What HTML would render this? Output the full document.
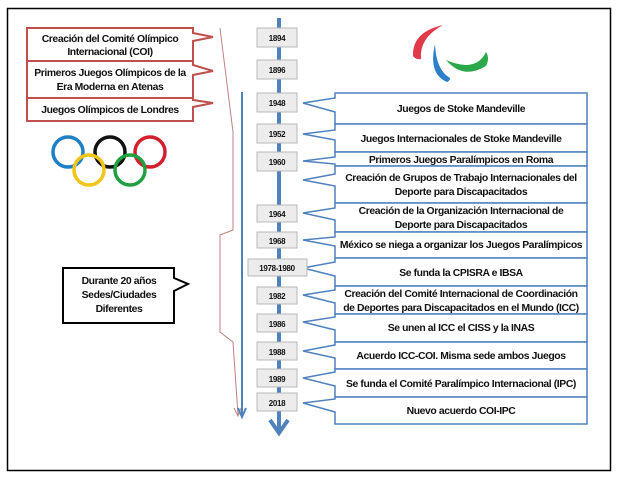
<!DOCTYPE html>
<html><head><meta charset="utf-8"><style>
html,body{margin:0;padding:0;background:#fff;width:618px;height:479px;overflow:hidden}
svg{display:block}
text{font-family:"Liberation Sans",sans-serif;font-weight:bold;font-size:10.4px;fill:#111;text-anchor:middle;letter-spacing:-0.4px}
.y{font-size:8px;letter-spacing:-0.3px}
</style></head><body>
<svg width="618" height="479" viewBox="0 0 618 479">
<rect x="7.5" y="8.5" width="603" height="462" fill="#fff" stroke="#000" stroke-width="1.5"/>
<g fill="#fff" stroke="#c0504d" stroke-width="2">
<path d="M27,28 H193 V33 L213,37 L193,41 V61 H27 Z"/>
<path d="M27,61 H193 V65 L213,71 L193,75 V98 H27 Z"/>
<path d="M27,98 H193 V100 L213,103 L193,107 V121 H27 Z"/>
</g>
<text x="110" y="42">Creación del Comité Olímpico</text>
<text x="110" y="55">Internacional (COI)</text>
<text x="110" y="76">Primeros Juegos Olímpicos de la</text>
<text x="110" y="90">Era Moderna en Atenas</text>
<text x="110" y="113">Juegos Olímpicos de Londres</text>
<g fill="none" stroke-width="3.5">
<circle cx="68" cy="152" r="15" stroke="#1f7fc4"/>
<circle cx="110" cy="152" r="15" stroke="#111"/>
<circle cx="150" cy="152" r="15" stroke="#d4202e"/>
<circle cx="89" cy="170" r="15" stroke="#f2c419"/>
<circle cx="130" cy="170" r="15" stroke="#20a040"/>
</g>
<path d="M63,268 H174 V278 L188,284 L174,291 V323 H63 Z" fill="#fff" stroke="#000" stroke-width="2"/>
<text x="119" y="284">Durante 20 años</text>
<text x="119" y="298">Sedes/Ciudades</text>
<text x="119" y="312">Diferentes</text>
<polyline points="220,28 233,132 233,230 220,235 220,332 233,342 238,415" fill="none" stroke="#c08080" stroke-width="1"/>
<path d="M234,408 L238,416 L241,408" fill="none" stroke="#c08080" stroke-width="1"/>
<line x1="242" y1="92" x2="242" y2="416" stroke="#4f81bd" stroke-width="2"/>
<path d="M238,408 L242,417 L246,408" fill="none" stroke="#4f81bd" stroke-width="2"/>
<line x1="279" y1="18" x2="279" y2="432" stroke="#4f81bd" stroke-width="4"/>
<path d="M270,420 L279,433 L288,420" fill="none" stroke="#4f81bd" stroke-width="4"/>
<path d="M443,25 Q412,32 413,56 Q416,60 421,59 Q419,38 443,25 Z" fill="#e03a4a"/>
<path d="M435,44 Q428,74 447,82 Q450,81 450,78 Q436,70 435,44 Z" fill="#2c7fc8"/>
<path d="M446,60 Q463,80 486,66 Q490,58 486,52 Q476,73 446,60 Z" fill="#2aa84a"/>
<g fill="#fff" stroke="#4f81bd" stroke-width="1.5">
<path d="M335,93 H587 V124 H335 V112 L303,103 L335,98 Z"/>
<path d="M335,124 H587 V152 H335 V140 L303,134 L335,130 Z"/>
<path d="M335,152 H587 V166 H335 V164 L303,161 L335,157 Z"/>
<path d="M335,166 H587 V203 H335 V186 L303,180 L335,174 Z"/>
<path d="M335,203 H587 V232 H335 V220 L303,213 L335,208 Z"/>
<path d="M335,232 H587 V258 H335 V246 L303,240 L335,237 Z"/>
<path d="M335,258 H587 V286 H335 V276 L303,268 L335,262 Z"/>
<path d="M335,286 H587 V314 H335 V303 L303,295 L335,290 Z"/>
<path d="M335,314 H587 V342 H335 V330 L303,322 L335,317 Z"/>
<path d="M335,342 H587 V369 H335 V358 L303,351 L335,345 Z"/>
<path d="M335,369 H587 V397 H335 V386 L303,378 L335,372 Z"/>
<path d="M335,397 H587 V424 H335 V412 L303,403 L335,399 Z"/>
</g>
<text x="461" y="112">Juegos de Stoke Mandeville</text>
<text x="461" y="142">Juegos Internacionales de Stoke Mandeville</text>
<text x="461" y="163">Primeros Juegos Paralímpicos en Roma</text>
<text x="461" y="181">Creación de Grupos de Trabajo Internacionales del</text>
<text x="461" y="195">Deporte para Discapacitados</text>
<text x="461" y="214">Creación de la Organización Internacional de</text>
<text x="461" y="228">Deporte para Discapacitados</text>
<text x="461" y="248">México se niega a organizar los Juegos Paralímpicos</text>
<text x="461" y="276">Se funda la CPISRA e IBSA</text>
<text x="461" y="297">Creación del Comité Internacional de Coordinación</text>
<text x="461" y="311">de Deportes para Discapacitados en el Mundo (ICC)</text>
<text x="461" y="331">Se unen al ICC el CISS y la INAS</text>
<text x="461" y="359">Acuerdo ICC-COI. Misma sede ambos Juegos</text>
<text x="461" y="387">Se funda el Comité Paralímpico Internacional (IPC)</text>
<text x="461" y="414">Nuevo acuerdo COI-IPC</text>
<g fill="#ececec" stroke="#b8b8b8" stroke-width="1">
<rect x="257" y="28" width="40" height="19"/>
<rect x="257" y="60" width="40" height="19"/>
<rect x="257" y="93" width="40" height="19"/>
<rect x="257" y="124" width="40" height="19"/>
<rect x="257" y="152" width="40" height="19"/>
<rect x="257" y="205" width="40" height="17"/>
<rect x="257" y="232" width="40" height="16"/>
<rect x="248" y="259" width="59" height="17"/>
<rect x="257" y="287" width="40" height="17"/>
<rect x="257" y="314" width="40" height="18"/>
<rect x="257" y="342" width="40" height="18"/>
<rect x="257" y="369" width="40" height="18"/>
<rect x="257" y="393" width="40" height="18"/>
</g>
<text class="y" x="277" y="41">1894</text>
<text class="y" x="277" y="73">1896</text>
<text class="y" x="277" y="106">1948</text>
<text class="y" x="277" y="137">1952</text>
<text class="y" x="277" y="165">1960</text>
<text class="y" x="277" y="217">1964</text>
<text class="y" x="277" y="244">1968</text>
<text class="y" x="277" y="271">1978-1980</text>
<text class="y" x="277" y="299">1982</text>
<text class="y" x="277" y="327">1986</text>
<text class="y" x="277" y="355">1988</text>
<text class="y" x="277" y="382">1989</text>
<text class="y" x="277" y="406">2018</text>
</svg>
</body></html>
